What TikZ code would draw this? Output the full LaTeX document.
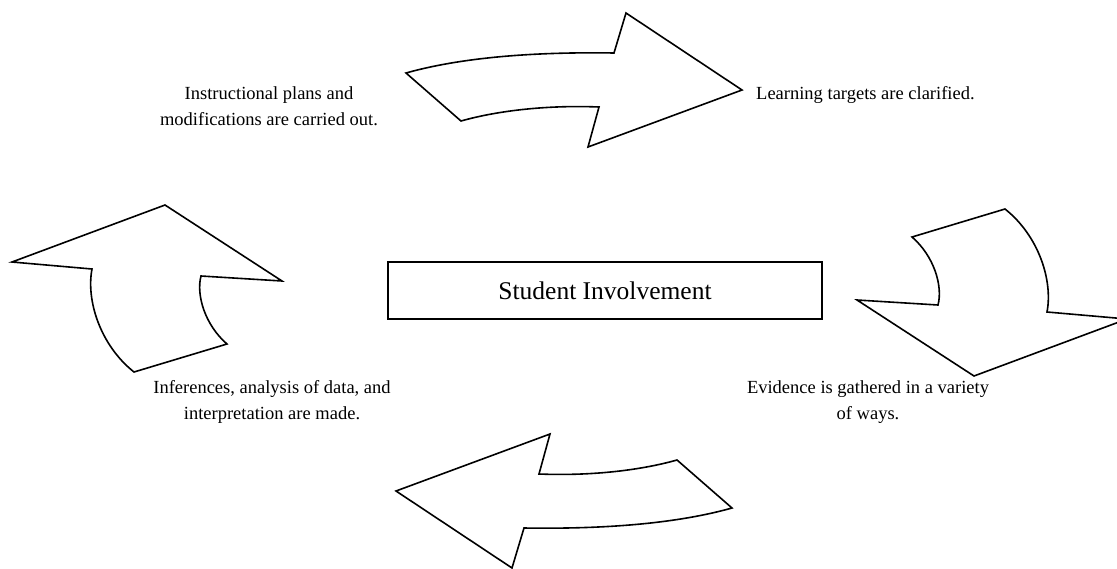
\documentclass[tikz,border=0pt]{standalone}
\usepackage{fontspec}
\setmainfont{Liberation Serif}
\begin{document}
\begin{tikzpicture}[x=1pt,y=-1pt,
		curvearrow/.style={draw,line width=1.6pt,line join=miter},
		note/.style={font=\fontsize{18.5}{26}\selectfont,align=center,inner sep=0pt}]
		\useasboundingbox (0,0) rectangle (1117,568);
		% centre box
		\node[draw,line width=1.8pt,minimum width=434pt,minimum height=57pt,font=\fontsize{25.5}{30}\selectfont] (involve) at (605,290.5) {Student Involvement};
		% the four arrows round it
		\draw[curvearrow] (406,73) .. controls (470,55) and (550,52) .. (614,53) -- (626,13) -- (742,90) -- (588,147) -- (599,107) .. controls (550,105) and (500,110) .. (461,121) -- cycle;
		\draw[curvearrow] (1005,209) .. controls (1039,236) and (1053,281) .. (1047,312) -- (1127,319) -- (974,376) -- (857,300) -- (938,305) .. controls (943,286) and (934,256) .. (912,237) -- cycle;
		\draw[curvearrow] (732,508) .. controls (668,526) and (588,529) .. (524,528) -- (512,568) -- (396,491) -- (550,434) -- (539,474) .. controls (588,476) and (638,471) .. (677,460) -- cycle;
		\draw[curvearrow] (134,372) .. controls (100,345) and (86,300) .. (92,269) -- (12,262) -- (165,205) -- (282,281) -- (201,276) .. controls (196,295) and (205,325) .. (227,344) -- cycle;
		% labels (base = last line)
		\node[note,anchor=base] (plans) at (269,125) {Instructional plans and\\modifications are carried out.};
		\node[note,anchor=base west] (targets) at (756,99) {Learning targets are clarified.};
		\node[note,anchor=base] (evidence) at (868,419) {Evidence is gathered in a variety\\of ways.};
		\node[note,anchor=base] (infer) at (272,419) {Inferences, analysis of data, and\\interpretation are made.};
	\end{tikzpicture}
\end{document}
